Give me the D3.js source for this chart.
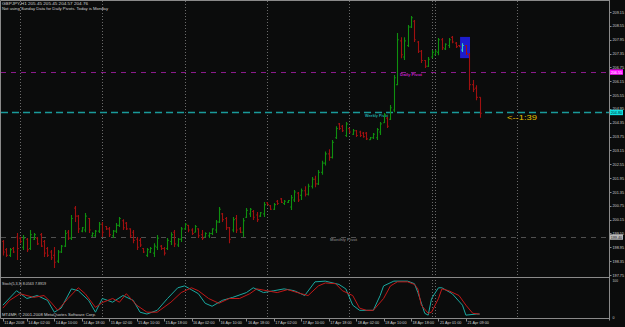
<!DOCTYPE html>
<html>
<head>
<meta charset="utf-8">
<script src="https://cdn.jsdelivr.net/npm/d3@7"></script>
<style>
  body { margin: 0; background: #0b0c0c; }
  svg { display: block; font-family: "Liberation Sans", "DejaVu Sans", sans-serif; }
</style>
</head>
<body>
<svg width="625" height="327"></svg>
<script>
// GBPJPY H1 bars, one value per bar (bar 0 = 11 Apr 2008 19:00)
const opens = [
  199.20, 198.85, 198.60, 198.90, 199.40, 199.35, 198.95, 199.30, 198.90, 199.30,
  199.35, 199.50, 199.20, 198.90, 198.75, 198.60, 198.35, 198.75, 199.00, 199.60,
  199.35, 200.65, 200.30, 199.65, 199.70, 200.20, 199.45, 199.45, 199.65, 199.95,
  199.85, 199.75, 199.45, 199.65, 199.90, 200.10, 200.00, 199.75, 199.60, 199.30,
  199.25, 198.90, 198.60, 198.75, 198.70, 198.95, 199.00, 198.90, 198.90, 199.20,
  199.60, 199.05, 199.30, 199.75, 199.90, 199.70, 199.60, 199.75, 199.50, 199.40,
  199.45, 199.55, 199.70, 200.05, 200.40, 200.20, 199.80, 199.70, 200.20, 199.75,
  199.60, 200.25, 200.40, 200.50, 200.35, 200.30, 200.40, 200.88, 200.75, 200.60,
  200.95, 201.05, 200.85, 200.90, 200.70, 201.00, 201.30, 201.20, 201.40, 201.25,
  201.60, 201.90, 201.70, 202.20, 202.60, 203.00, 202.85, 203.70, 204.30, 204.20,
  203.80, 204.10, 203.85, 204.00, 203.95, 203.90, 203.90, 203.62, 203.70, 203.70,
  203.95, 204.35, 204.55, 204.50, 204.90, 206.00, 207.90, 207.20, 207.70, 208.50,
  208.75, 207.85, 207.45, 207.05, 206.80, 207.20, 207.30, 207.40, 207.95, 207.55,
  207.70, 208.05, 207.80, 207.70, 207.50, 207.70, 207.30, 206.00, 205.85, 205.45
];
const highs = [
  199.27, 198.92, 198.92, 198.96, 199.57, 199.40, 199.48, 199.35, 199.70, 199.57,
  199.40, 199.57, 199.27, 198.96, 198.83, 198.96, 198.83, 199.05, 199.70, 199.70,
  200.35, 200.74, 200.35, 199.83, 200.44, 200.22, 199.60, 199.70, 200.05, 200.05,
  199.87, 199.83, 199.70, 200.00, 200.26, 200.17, 200.05, 199.78, 199.70, 199.40,
  199.35, 198.92, 198.92, 198.96, 199.13, 199.48, 199.05, 198.96, 199.35, 199.60,
  199.70, 199.35, 199.83, 200.00, 199.92, 199.78, 199.92, 199.78, 199.70, 199.60,
  199.60, 199.78, 200.13, 200.70, 200.44, 200.26, 199.83, 200.26, 200.35, 199.83,
  200.22, 200.65, 200.65, 200.57, 200.48, 200.48, 200.91, 200.91, 200.78, 200.87,
  201.00, 201.09, 201.00, 201.00, 201.22, 201.43, 201.35, 201.50, 201.60, 201.70,
  202.00, 202.05, 202.30, 202.70, 203.10, 203.20, 203.60, 204.20, 204.34, 204.25,
  204.38, 204.12, 204.08, 204.03, 204.00, 203.95, 203.95, 203.73, 203.90, 204.12,
  204.38, 204.77, 204.60, 205.12, 206.42, 208.24, 208.06, 208.06, 208.59, 208.98,
  208.80, 207.89, 207.50, 207.07, 207.20, 207.50, 207.50, 208.02, 208.02, 207.80,
  208.02, 208.11, 207.85, 207.72, 207.80, 207.72, 207.37, 206.20, 205.98, 205.45
];
const lows = [
  198.60, 198.53, 198.53, 198.70, 198.40, 199.13, 198.83, 198.75, 198.83, 199.27,
  199.05, 198.96, 198.53, 198.53, 198.40, 198.05, 198.27, 198.70, 198.96, 199.27,
  199.27, 200.05, 199.57, 199.60, 199.60, 199.57, 199.40, 199.40, 199.57, 199.40,
  199.70, 199.40, 199.35, 199.57, 199.83, 199.70, 199.70, 199.35, 199.13, 198.83,
  198.96, 198.70, 198.53, 198.70, 198.53, 198.83, 198.83, 198.60, 198.83, 199.05,
  198.96, 198.96, 199.18, 199.70, 199.60, 199.48, 199.60, 199.35, 199.27, 199.40,
  199.35, 199.48, 199.57, 200.00, 200.05, 199.70, 199.13, 199.60, 199.57, 199.57,
  199.40, 200.22, 200.26, 200.13, 200.05, 200.26, 200.26, 200.78, 200.57, 200.57,
  200.78, 200.87, 200.78, 200.87, 200.57, 200.91, 200.91, 201.00, 201.15, 201.20,
  201.50, 201.55, 201.65, 202.10, 202.50, 202.70, 202.80, 203.65, 204.03, 203.95,
  203.73, 203.90, 203.82, 203.73, 203.73, 203.70, 203.60, 203.60, 203.65, 203.60,
  203.82, 204.34, 204.12, 204.47, 204.80, 205.98, 207.15, 207.07, 207.63, 208.46,
  207.85, 207.37, 206.94, 206.72, 206.77, 207.15, 207.28, 207.28, 207.50, 207.50,
  207.59, 207.80, 207.59, 207.63, 207.42, 207.28, 205.77, 205.68, 205.33, 204.57
];
const closes = [
  198.75, 198.60, 198.85, 198.75, 198.90, 199.20, 199.35, 198.85, 199.50, 199.50,
  199.10, 199.00, 198.70, 198.60, 198.50, 198.30, 198.75, 199.00, 199.55, 199.35,
  200.20, 200.30, 199.75, 199.80, 200.30, 199.70, 199.55, 199.65, 199.95, 199.60,
  199.75, 199.50, 199.65, 199.90, 200.20, 199.80, 199.75, 199.45, 199.25, 198.95,
  199.05, 198.75, 198.85, 198.90, 199.00, 199.35, 198.90, 198.70, 199.25, 199.50,
  199.10, 199.30, 199.75, 199.95, 199.70, 199.55, 199.85, 199.45, 199.35, 199.55,
  199.55, 199.75, 200.05, 200.60, 200.15, 199.80, 199.30, 200.15, 199.70, 199.60,
  200.10, 200.55, 200.60, 200.25, 200.15, 200.45, 200.80, 200.80, 200.60, 200.80,
  200.85, 200.90, 200.95, 200.98, 201.10, 201.35, 201.00, 201.40, 201.25, 201.60,
  201.90, 201.70, 202.20, 202.60, 203.00, 202.85, 203.50, 204.10, 204.10, 204.00,
  204.30, 203.95, 204.00, 203.80, 203.80, 203.75, 203.65, 203.70, 203.85, 204.05,
  204.30, 204.70, 204.20, 205.00, 206.30, 207.95, 207.30, 207.90, 208.50, 208.90,
  207.95, 207.45, 207.05, 206.80, 207.10, 207.40, 207.45, 207.95, 207.60, 207.75,
  207.95, 207.85, 207.65, 207.65, 207.70, 207.35, 206.00, 205.80, 205.45, 204.76
];

// Stoch(5,3,3): points (bar index, value)
const stochMainIdx = [0, 4, 7, 10, 13, 15, 17, 20, 22, 25, 27, 29, 32, 35, 38, 40, 42, 45, 48, 51, 53, 57, 59, 61, 64, 67, 71, 73, 76, 79, 82, 85, 88, 91, 94, 98, 100, 102, 104, 108, 110, 111, 114, 118, 120, 121, 123, 124, 125, 127, 128, 131, 134, 135, 138, 139];
const stochMainVal = [32, 71, 50, 58, 45, 13, 24, 76, 71, 45, 13, 50, 40, 58, 45, 13, 8, 18, 50, 79, 84, 63, 37, 29, 45, 53, 66, 79, 66, 71, 76, 71, 58, 95, 97, 88, 76, 32, 18, 18, 58, 84, 97, 97, 90, 66, 10, 5, 50, 79, 79, 63, 32, 5, 8, 8.06];
const stochSigIdx = [0, 2, 5, 9, 12, 14, 16, 19, 22, 24, 27, 29, 32, 34, 36, 39, 42, 45, 49, 52, 55, 57, 60, 63, 66, 69, 72, 74, 77, 80, 83, 87, 89, 92, 94, 97, 99, 102, 104, 106, 108, 111, 113, 115, 118, 120, 121, 122, 124, 125, 127, 128, 130, 133, 135, 137, 139];
const stochSigVal = [24, 45, 63, 53, 58, 40, 18, 50, 79, 63, 26, 39, 50, 40, 63, 32, 13, 13, 40, 66, 79, 71, 50, 37, 50, 50, 63, 76, 71, 66, 74, 63, 58, 84, 92, 90, 71, 58, 24, 18, 18, 50, 84, 95, 95, 88, 76, 32, 10, 13, 50, 76, 71, 58, 32, 10, 7.89];

// right axis and time axis
const priceTicks = [197.75, 198.35, 198.95, 199.55, 200.15, 200.75, 201.35, 201.95, 202.55, 203.15,
  203.75, 204.35, 204.95, 205.55, 206.15, 206.75, 207.35, 207.95, 208.55, 209.15];
const timeTickIdx = [0, 7, 15, 23, 31, 39, 47, 55, 63, 71, 79, 87, 95, 103, 111, 119, 127, 135];
const timeTickLabels = ["11 Apr 2008", "14 Apr 02:00", "14 Apr 10:00", "14 Apr 18:00",
  "15 Apr 02:00", "15 Apr 10:00", "15 Apr 18:00", "16 Apr 02:00", "16 Apr 10:00", "16 Apr 18:00",
  "17 Apr 02:00", "17 Apr 10:00", "17 Apr 18:00", "18 Apr 02:00", "18 Apr 10:00", "18 Apr 18:00",
  "21 Apr 01:00", "21 Apr 09:00"];
const daySeparators = [5, 29, 53, 77, 101, 125, 126, 150];

// pivot lines
const pivotNames = ["Daily Pivot", "Weekly Pivot", "Monthly Pivot"];
const pivotValues = [206.55, 204.80, 199.40];
const pivotLabelIdx = [115.8, 105.6, 95.4];

// blue box (bar range, price range)
const boxIdx = [133.3, 136.2];
const boxPrice = [207.15, 208.07];

const svg = d3.select("svg");
const W = 625, H = 327;
const axisX = 609.5;
const mainTop = 0.5, mainBottom = 277.5;
const subBottom = 318.5;
const FS = 4.3;

const x = d3.scaleLinear().domain([0, 150]).range([2.85, 2.85 + 150 * 3.43]);
const y = d3.scaleLinear().domain([197.75, 209.15]).range([275, 12]);
const ys = d3.scaleLinear().domain([0, 100]).range([317, 280]);

svg.append("rect").attr("width", W).attr("height", H).attr("fill", "#0b0c0c");

const up = "#0f8f0f", down = "#a01010", frame = "#8a8a8a", txt = "#d0d0d0";

// helper: small text squeezed to the width seen in the chart
function label(g, tx, ty, str, width, color, size) {
  return g.append("text").attr("x", tx).attr("y", ty)
    .attr("font-size", size || FS).attr("fill", color || txt)
    .attr("textLength", width).attr("lengthAdjust", "spacingAndGlyphs")
    .text(str);
}

// day separators
svg.append("g").selectAll("line").data(daySeparators).join("line")
  .attr("x1", d => Math.round(x(d)) + 0.5).attr("x2", d => Math.round(x(d)) + 0.5)
  .attr("y1", 1).attr("y2", subBottom)
  .attr("stroke", "#6a6a6a").attr("stroke-dasharray", "1,2");

// pivot lines
const pivotColors = ["#8b1a8b", "#1a9a9a", "#505050"];
const pivotText = ["#c020c0", "#20a8a8", "#707070"];
const pivotLabelW = [22, 23, 27];
svg.append("g").selectAll("line").data(pivotValues).join("line")
  .attr("x1", 1).attr("x2", axisX)
  .attr("y1", d => Math.round(y(d)) + 0.5).attr("y2", d => Math.round(y(d)) + 0.5)
  .attr("stroke", (d, i) => pivotColors[i]).attr("stroke-width", (d, i) => i === 1 ? 1.6 : 1.2)
  .attr("stroke-dasharray", (d, i) => i === 1 ? "7,4" : "5,5");
const pl = svg.append("g").attr("font-weight", "bold");
pivotNames.forEach((n, i) => label(pl, x(pivotLabelIdx[i]), y(pivotValues[i]) + 4.2, n, pivotLabelW[i], pivotText[i]));

// blue box
svg.append("rect")
  .attr("x", x(boxIdx[0])).attr("width", x(boxIdx[1]) - x(boxIdx[0]))
  .attr("y", y(boxPrice[1])).attr("height", y(boxPrice[0]) - y(boxPrice[1]))
  .attr("fill", "#1c1ccc");

// OHLC bars
const bars = d3.range(opens.length).map(i => ({
  i, o: opens[i], h: highs[i], l: lows[i], c: closes[i]
}));
svg.append("g").selectAll("path").data(bars).join("path")
  .attr("d", d => {
    const cx = Math.round(x(d.i)) + 0.5;
    return `M${cx},${y(d.h)}V${y(d.l)}M${cx - 1.3},${y(d.o)}H${cx}M${cx},${y(d.c)}H${cx + 1.3}`;
  })
  .attr("stroke", d => d.i === 134 ? "#2fd0c0" : (d.c >= d.o ? up : down))
  .attr("stroke-width", 1.1)
  .attr("fill", "none");

// frames
svg.append("path")
  .attr("d", `M0.5,${mainTop}H${axisX}M0.5,${mainTop}V${subBottom}M0.5,${mainBottom}H${axisX}M0.5,${subBottom}H${axisX}M${axisX},0V${subBottom + 2}`)
  .attr("stroke", frame).attr("fill", "none");

// right price axis
const ra = svg.append("g");
ra.selectAll("line").data(priceTicks).join("line")
  .attr("x1", axisX).attr("x2", axisX + 2)
  .attr("y1", d => Math.round(y(d)) + 0.5).attr("y2", d => Math.round(y(d)) + 0.5)
  .attr("stroke", frame);
priceTicks.forEach(v => label(ra, axisX + 3, y(v) + 1.6, v.toFixed(2), 11.5));

// pivot price boxes on the axis
const boxFill = ["#ff10ff", "#10e0e0", "#b8b8b8"];
const boxTxt = ["#ffffff", "#003030", "#202020"];
pivotValues.forEach((v, i) => {
  svg.append("rect").attr("x", axisX + 0.5).attr("y", y(v) - 2.6)
    .attr("width", 13).attr("height", 5.4).attr("fill", boxFill[i]);
  label(svg, axisX + 1.2, y(v) + 1.6, v.toFixed(2), 11.5, boxTxt[i]);
});

// stoch panel
const lineMain = d3.line().x((d, k) => x(stochMainIdx[k])).y(d => ys(d));
const lineSig = d3.line().x((d, k) => x(stochSigIdx[k])).y(d => ys(d));
svg.append("path").datum(stochMainVal).attr("d", lineMain)
  .attr("stroke", "#1aa8a0").attr("stroke-width", 1).attr("fill", "none");
svg.append("path").datum(stochSigVal).attr("d", lineSig)
  .attr("stroke", "#c01818").attr("stroke-width", 1).attr("fill", "none");

label(svg, 2, 284.5, "Stoch(5,3,3) 8.0563 7.8919", 44);
label(svg, 2, 316.3, "MT4MF, \u00a9 2001-2008 MetaQuotes Software Corp.", 94);
label(svg, axisX + 3, 282.3, "100", 5.5);
label(svg, axisX + 3, 318.5, "0", 2);

// time axis
const ta = svg.append("g");
ta.selectAll("line").data(timeTickIdx).join("line")
  .attr("x1", d => Math.round(x(d)) + 0.5).attr("x2", d => Math.round(x(d)) + 0.5)
  .attr("y1", subBottom).attr("y2", subBottom + 3)
  .attr("stroke", frame);
timeTickLabels.forEach((t, k) => label(ta, x(timeTickIdx[k]) + 1.5, 324.3, t, k === 0 ? 20 : 21.5));

// header text
label(svg, 2, 5.3, "GBPJPY,H1  205.45 205.45 204.57 204.76", 86);
label(svg, 2, 10.3, "Not using Sunday Data for Daily Pivots.   Today is Monday", 106);

// countdown
label(svg, 507, 119.8, "<--1:39", 30, "#e8c000", 7.5);
</script>
</body>
</html>
